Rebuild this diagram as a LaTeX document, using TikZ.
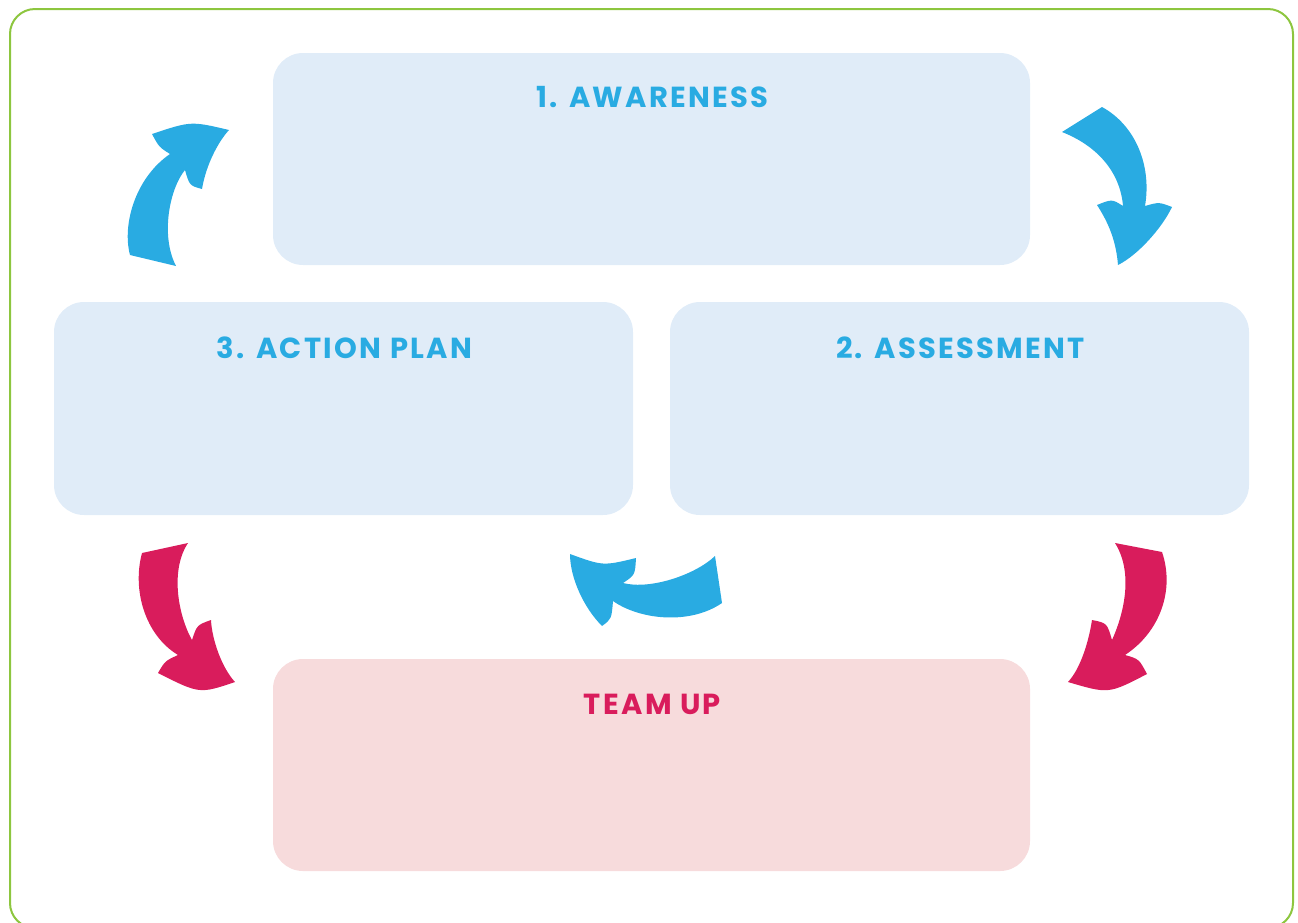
\documentclass[tikz,border=0pt]{standalone}
\usepackage{fontspec}
\setmainfont{Poppins}
\newfontfamily\titlefont{Poppins}[LetterSpace=8]
\definecolor{ablue}{HTML}{29ABE2}
\definecolor{amag}{HTML}{D91C5C}
\definecolor{agreen}{HTML}{8DC63F}
\definecolor{boxblue}{HTML}{E0ECF8}
\definecolor{boxpink}{HTML}{F7DBDC}
\begin{document}
\begin{tikzpicture}[x=1pt,y=-1pt,
  panel/.style={draw=none, rounded corners=30pt, inner sep=0pt},
  bluepanel/.style={panel, fill=boxblue},
  pinkpanel/.style={panel, fill=boxpink},
  title/.style={anchor=base, inner sep=0pt, font=\fontsize{29}{30}\titlefont\bfseries},
  bluearrow/.style={fill=ablue, draw=none},
  magarrow/.style={fill=amag, draw=none}]
\useasboundingbox (0,0) rectangle (1298,922);
\clip (0,0) rectangle (1298,922);
\draw[agreen, line width=2pt, rounded corners=25pt] (10,9) rectangle (1293,928);

% panels
\node[bluepanel, minimum width=757pt, minimum height=212pt] (aware) at (651.5,159) {};
\node[bluepanel, minimum width=579pt, minimum height=213pt] (action) at (343.5,408.5) {};
\node[bluepanel, minimum width=579pt, minimum height=213pt] (assess) at (959.5,408.5) {};
\node[pinkpanel, minimum width=757pt, minimum height=212pt] (team) at (651.5,765) {};

% titles
\node[title, text=ablue] (t1) at (652.5,107) {1. AWARENESS};
\node[title, text=ablue] (t3) at (344.5,358) {3. ACTION PLAN};
\node[title, text=ablue] (t2) at (960.5,358) {2. ASSESSMENT};
\node[title, text=amag] (t4) at (652.5,714) {TEAM UP};

% arrow top-left (up-right)
\fill[bluearrow] (130,255) .. controls (122,225) and (135,178) .. (170,154)
  .. controls (159,147) .. (152,134)
  .. controls (191,121) .. (229,130)
  .. controls (218,142) and (206,165) .. (202,189)
  .. controls (189.5,185.5) .. (185,170)
  .. controls (170,188) and (160,235) .. (176,266) -- cycle;

% arrow top-right (down)
\fill[bluearrow] (1062,132) -- (1102,107)
  .. controls (1135,125) and (1152,165) .. (1145,206)
  .. controls (1159,202) .. (1172,207)
  .. controls (1162,228) and (1138,255) .. (1118,265)
  .. controls (1116,240) and (1108,222) .. (1097,205)
  .. controls (1112,199) .. (1123,206)
  .. controls (1120,170) and (1095,145) .. (1062,132) -- cycle;

% arrow bottom-left (magenta)
\fill[magarrow] (142,553) .. controls (132,590) and (145,635) .. (178,655)
  .. controls (165,661) .. (158,673)
  .. controls (199.5,694) .. (235,682)
  .. controls (222,668) and (212,640) .. (211,620)
  .. controls (197,625) .. (192,640)
  .. controls (178,615) and (170,570) .. (188,543) -- cycle;

% arrow bottom-right (magenta)
\fill[magarrow] (1115,543) -- (1162,552)
  .. controls (1175,590) and (1160,632) .. (1125,655)
  .. controls (1139,659) .. (1147,674)
  .. controls (1108.5,694) .. (1068,682)
  .. controls (1081,668) and (1089,640) .. (1092,620)
  .. controls (1107,623) .. (1112,640)
  .. controls (1122,618) and (1135,575) .. (1115,543) -- cycle;

% arrow bottom-middle (blue, pointing left)
\fill[bluearrow] (715,556) .. controls (695,575) and (650,590) .. (623,583)
  .. controls (635,575) .. (636,558)
  .. controls (603,566) .. (570,554)
  .. controls (570,578) and (584,608) .. (602,626)
  .. controls (611.5,619) .. (613,601)
  .. controls (640,620) and (690,625) .. (722,603) -- cycle;
\end{tikzpicture}
\end{document}
